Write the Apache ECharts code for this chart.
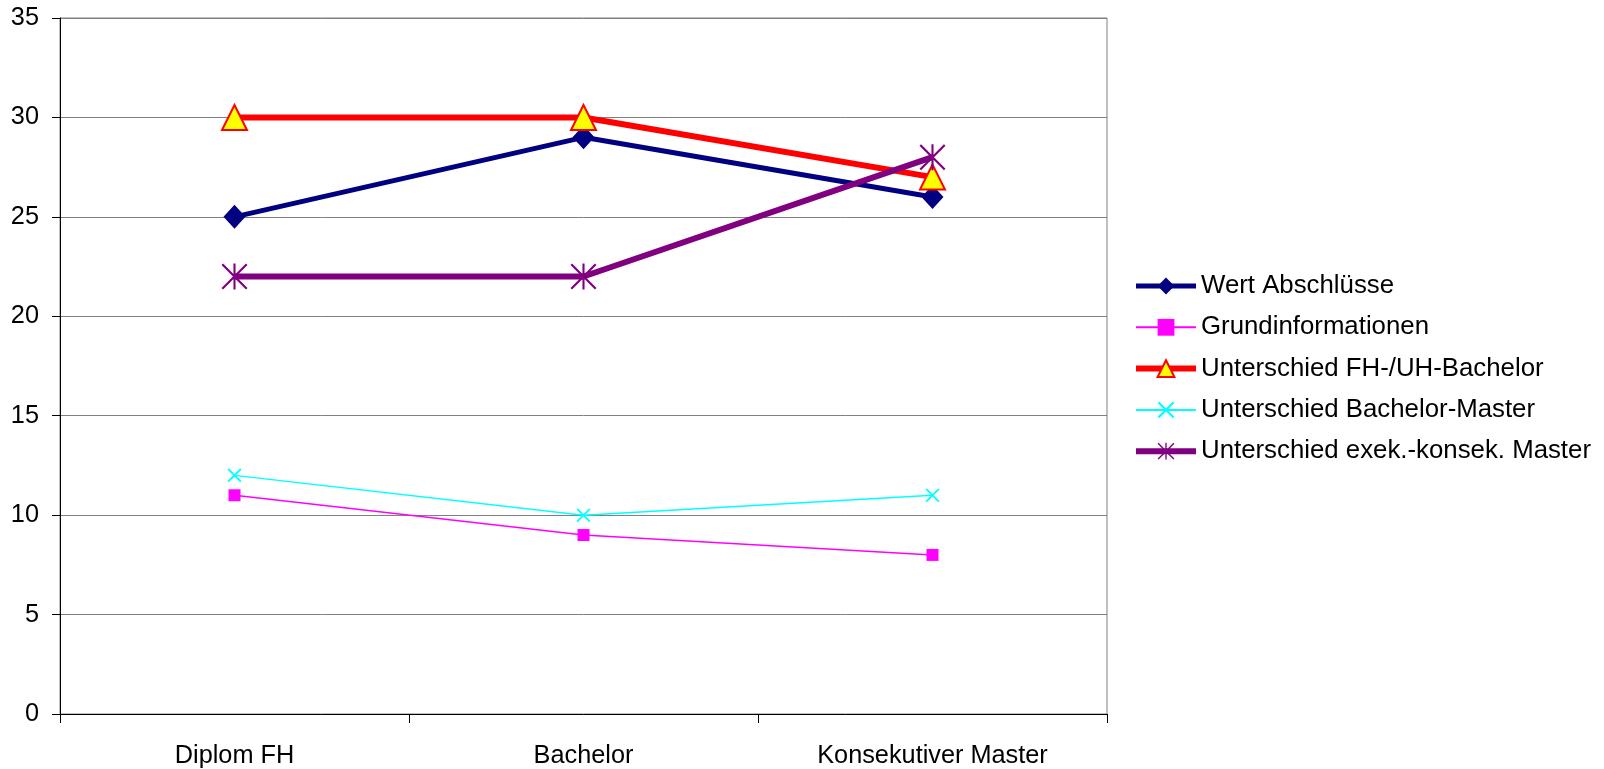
<!DOCTYPE html>
<html><head><meta charset="utf-8">
<script src="https://cdn.jsdelivr.net/npm/echarts@6/dist/echarts.min.js"></script>
<style>html,body{margin:0;padding:0;background:#fff}#c{width:1604px;height:769px}</style>
</head><body><div id="c"></div>
<script>
const categories = ["Diplom FH", "Bachelor", "Konsekutiver Master"];
const yTicks = [0, 5, 10, 15, 20, 25, 30, 35];
const seriesNames = ["Wert Abschlüsse", "Grundinformationen", "Unterschied FH-/UH-Bachelor", "Unterschied Bachelor-Master", "Unterschied exek.-konsek. Master"];
const wertAbschluesse = [25, 29, 26];
const grundinformationen = [11, 9, 8];
const unterschiedFHUH = [30, 30, 27];
const unterschiedBachelorMaster = [12, 10, 11];
const unterschiedExekKonsek = [22, 22, 28];

const FONT = "'Liberation Sans', Arial, sans-serif";
const FS = 25.3;
const FSL = 25.8;
const xPath = 'path://M0,9 L9,0 L50,41 L91,0 L100,9 L59,50 L100,91 L91,100 L50,59 L9,100 L0,91 L41,50 Z';
const starPath = 'path://M0,6 L6,0 L50,44 L94,0 L100,6 L56,50 L100,94 L94,100 L50,56 L6,100 L0,94 L44,50 Z M46,0 L54,0 L54,100 L46,100 Z';

const lineW = [5, 1.5, 6, 1.5, 6];
const colors = ['#000080', '#ff00ff', '#ff0000', '#00ffff', '#800080'];

const chart = echarts.init(document.getElementById('c'), null, {renderer: 'canvas'});
chart.setOption({
  animation: false,
  backgroundColor: '#ffffff',
  textStyle: {fontFamily: FONT},
  grid: {left: 60, right: 497, top: 18, bottom: 55, show: true, borderColor: '#808080', borderWidth: 1},
  legend: {
    orient: 'vertical', left: 1128, top: 268,
    itemWidth: 60, itemHeight: 21, itemGap: 15.3,
    textStyle: {fontSize: FSL, color: '#000', fontFamily: FONT},
    data: seriesNames.map((n, i) => ({name: n, lineStyle: {width: lineW[i] + (i === 1 || i === 3 ? 0.5 : 0), color: colors[i]}}))
  },
  xAxis: {
    type: 'category', data: categories, boundaryGap: true,
    axisLine: {lineStyle: {color: '#000', width: 1}},
    axisTick: {show: true, length: 9, lineStyle: {color: '#000'}},
    axisLabel: {fontSize: FS, color: '#000', margin: 30, fontFamily: FONT}
  },
  yAxis: {
    type: 'value', min: yTicks[0], max: yTicks[yTicks.length - 1], interval: 5,
    axisLine: {show: true, lineStyle: {color: '#000', width: 1}},
    axisTick: {show: true, length: 8, lineStyle: {color: '#000'}},
    axisLabel: {fontSize: FS, color: '#000', margin: 21, fontFamily: FONT},
    splitLine: {lineStyle: {color: '#808080', width: 1}}
  },
  series: [
    {name: seriesNames[0], type: 'line', data: wertAbschluesse,
     symbol: 'diamond', symbolSize: [22, 24],
     lineStyle: {color: colors[0], width: lineW[0]}, itemStyle: {color: colors[0]}},
    {name: seriesNames[1], type: 'line', data: grundinformationen,
     symbol: 'rect', symbolSize: 12,
     lineStyle: {color: colors[1], width: lineW[1]}, itemStyle: {color: colors[1]}},
    {name: seriesNames[2], type: 'line', data: unterschiedFHUH,
     symbol: 'triangle', symbolSize: 25,
     lineStyle: {color: colors[2], width: lineW[2]}, itemStyle: {color: '#ffff00', borderColor: '#ff0000', borderWidth: 2}},
    {name: seriesNames[3], type: 'line', data: unterschiedBachelorMaster,
     symbol: xPath, symbolSize: 14,
     lineStyle: {color: colors[3], width: lineW[3]}, itemStyle: {color: colors[3]}},
    {name: seriesNames[4], type: 'line', data: unterschiedExekKonsek,
     symbol: starPath, symbolSize: 26,
     lineStyle: {color: colors[4], width: lineW[4]}, itemStyle: {color: colors[4]}}
  ]
});
</script></body></html>
